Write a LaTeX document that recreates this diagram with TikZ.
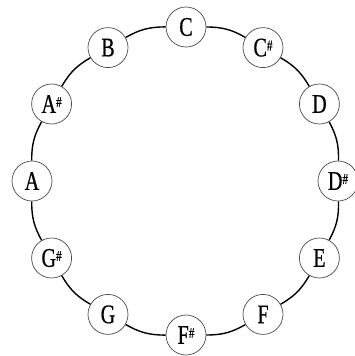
\documentclass[tikz,border=0pt]{standalone}
\usepackage{fontspec}
\newfontfamily\notefont[FakeStretch=0.75,FakeBold=0.6]{Liberation Serif}
\usetikzlibrary{positioning}
\newcommand{\shp}{\raisebox{0.22em}{\fontsize{15}{15}\selectfont\#}}

\begin{document}
\begin{tikzpicture}[
    x=1bp, y=-1bp,
    note/.style={circle, draw=black!70, line width=0.7bp, fill=white,
        minimum size=40bp, inner sep=0pt, font=\notefont\fontsize{27}{27}\selectfont},
    ring/.style={line width=1.4bp, black},
]
\useasboundingbox (0,0) rectangle (355,356);
% notes round the circle, clockwise from the top
\node[note] (C)  at (186, 27)    {C};
\node[note] (Cs) at (263, 47.6)  {C\shp};
\node[note] (D)  at (319.4, 104) {D};
\node[note] (Ds) at (338, 181)   {D\shp};
\node[note] (E)  at (319.4, 258) {E};
\node[note] (F)  at (263, 314.4) {F};
\node[note] (Fs) at (186, 335)   {F\shp};
\node[note] (G)  at (108, 314.4) {G};
\node[note] (Gs) at (51.6, 258)  {G\shp};
\node[note] (A)  at (32, 181)    {A};
\node[note] (As) at (51.6, 104)  {A\shp};
\node[note] (B)  at (108, 47.6)  {B};
% arcs between neighbours
\draw[ring] (C) to[bend left=15] (Cs);
\draw[ring] (Cs) to[bend left=15] (D);
\draw[ring] (D) to[bend left=15] (Ds);
\draw[ring] (Ds) to[bend left=15] (E);
\draw[ring] (E) to[bend left=15] (F);
\draw[ring] (F) to[bend left=15] (Fs);
\draw[ring] (Fs) to[bend left=15] (G);
\draw[ring] (G) to[bend left=15] (Gs);
\draw[ring] (Gs) to[bend left=15] (A);
\draw[ring] (A) to[bend left=15] (As);
\draw[ring] (As) to[bend left=15] (B);
\draw[ring] (B) to[bend left=15] (C);
\end{tikzpicture}
\end{document}
